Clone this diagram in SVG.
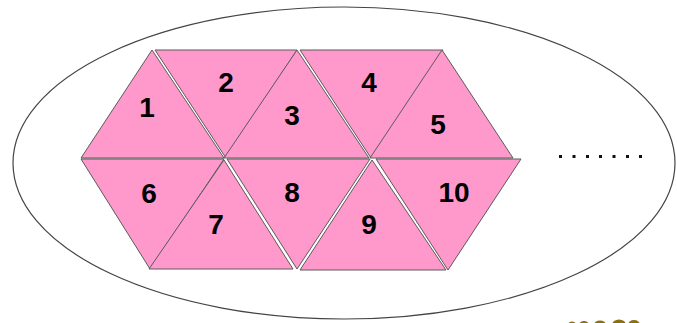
<svg xmlns="http://www.w3.org/2000/svg" width="677" height="323" viewBox="0 0 677 323">
<style>
.tri{fill:#ff99cc;stroke:#5a5a5a;stroke-width:1;stroke-linejoin:miter}
.lbl{font-family:"Liberation Sans",Arial,sans-serif;font-weight:bold;font-size:28px;fill:#000;text-anchor:middle}
.dot{fill:#111}
</style>
<rect width="677" height="323" fill="#fff"/>
<ellipse id="boundary" cx="344" cy="163" rx="331" ry="156" fill="none" stroke="#444" stroke-width="1.2"/>
<g id="t1"><polygon class="tri" points="152,50 81,158 224,158"/><text class="lbl" x="147" y="117">1</text></g>
<g id="t2"><polygon class="tri" points="155,50 297,50 226,158"/><text class="lbl" x="226" y="92">2</text></g>
<g id="t3"><polygon class="tri" points="297,50 224,158 369,158"/><text class="lbl" x="292" y="125">3</text></g>
<g id="t4"><polygon class="tri" points="300,50 443,50 371,158"/><text class="lbl" x="369" y="92">4</text></g>
<g id="t5"><polygon class="tri" points="442,50 370,158 513,158"/><text class="lbl" x="438" y="134">5</text></g>
<g id="t6"><polygon class="tri" points="81,159 224,159 150,269"/><text class="lbl" x="149" y="203">6</text></g>
<g id="t8"><polygon class="tri" points="227,159 370,159 297,269"/><text class="lbl" x="292" y="202">8</text></g>
<g id="t10"><polygon class="tri" points="376,159 521,159 448,270"/><text class="lbl" x="454" y="202">10</text></g>
<g id="t7"><polygon class="tri" points="224,160 149,269 293,269"/><text class="lbl" x="216" y="234">7</text></g>
<g id="t9"><polygon class="tri" points="372,160 300,270 446,270"/><text class="lbl" x="369" y="234">9</text></g>
<g id="connectors"></g>
<g id="ellipsis">
<rect class="dot" x="559" y="155" width="3" height="3"/>
<rect class="dot" x="572.5" y="155" width="3" height="3"/>
<rect class="dot" x="586" y="155" width="3" height="3"/>
<rect class="dot" x="599" y="155" width="3" height="3"/>
<rect class="dot" x="612.5" y="155" width="3" height="3"/>
<rect class="dot" x="626" y="155" width="3" height="3"/>
<rect class="dot" x="639" y="155" width="3" height="3"/>
</g>
<g id="corner" fill="#8a7010">
<ellipse cx="572" cy="325" rx="4" ry="3.5"/>
<ellipse cx="584" cy="325" rx="5" ry="4"/>
<ellipse cx="600" cy="325" rx="6" ry="4.5"/>
<ellipse cx="619" cy="325" rx="7" ry="5.5"/>
<ellipse cx="634" cy="325" rx="6" ry="5"/>
</g>
</svg>
